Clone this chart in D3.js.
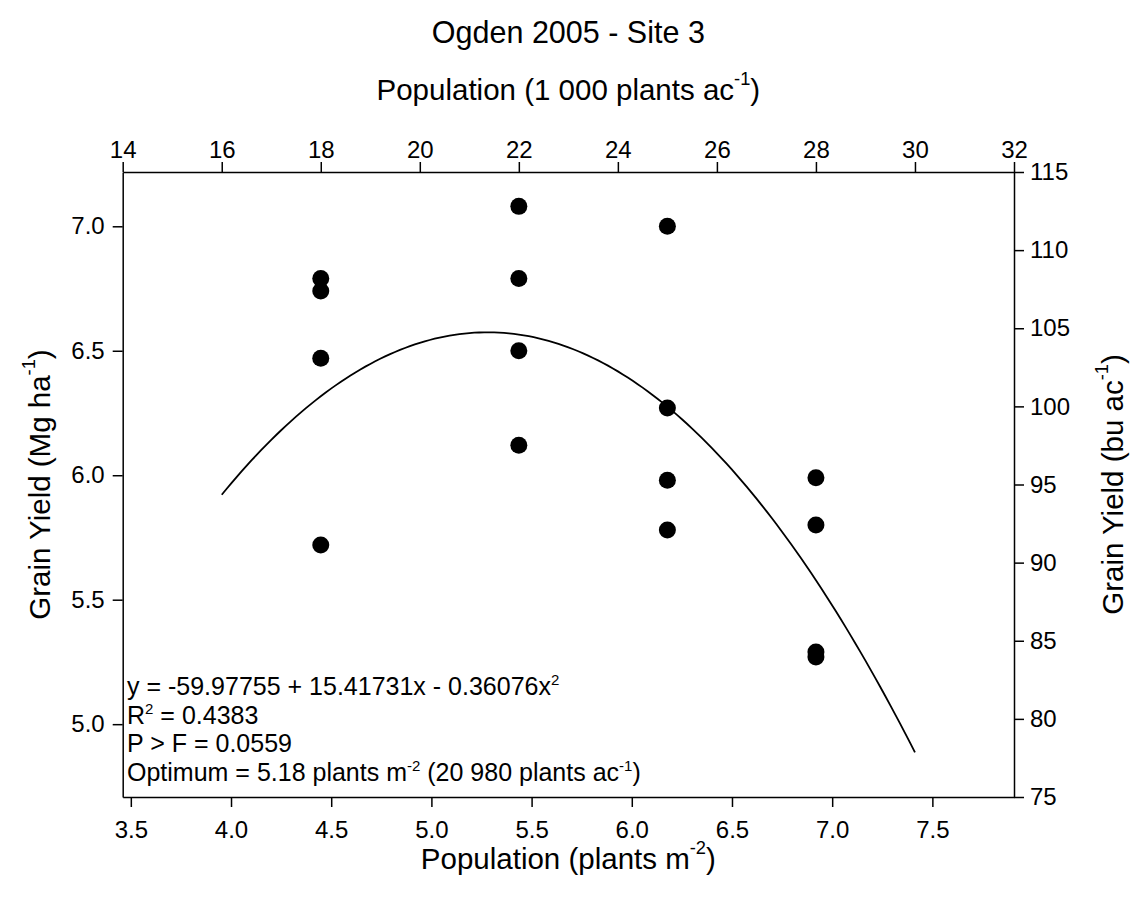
<!DOCTYPE html>
<html>
<head>
<meta charset="utf-8">
<script src="https://cdn.jsdelivr.net/npm/d3@7"></script>
<style>
  html, body { margin: 0; padding: 0; background: #fff; }
  svg text { font-family: "Liberation Sans", Arial, sans-serif; fill: #000; }
</style>
</head>
<body>
<svg id="chart" width="1136" height="906"></svg>
<script>
// ---- data ----
const populationAc = [18, 18, 18, 18, 22, 22, 22, 22, 25, 25, 25, 25, 28, 28, 28, 28]; // 1 000 plants/ac
const yieldMg = [6.79, 6.74, 6.47, 5.72, 7.08, 6.79, 6.50, 6.12, 7.00, 6.27, 5.98, 5.78, 5.99, 5.80, 5.29, 5.27]; // Mg/ha
const fitCoefficients = [-59.97755, 15.41731, -0.36076]; // bu/ac vs 1 000 plants/ac
const fitRange = [16, 30];
const bottomTicks = [3.5, 4.0, 4.5, 5.0, 5.5, 6.0, 6.5, 7.0, 7.5];
const topTicks = [14, 16, 18, 20, 22, 24, 26, 28, 30, 32];
const leftTicks = [5.0, 5.5, 6.0, 6.5, 7.0];
const rightTicks = [75, 80, 85, 90, 95, 100, 105, 110, 115];
const annotations = [
  [["y = -59.97755 + 15.41731x - 0.36076x", false], ["2", true]],
  [["R", false], ["2", true], [" = 0.4383", false]],
  [["P > F = 0.0559", false]],
  [["Optimum = 5.18 plants m", false], ["-2", true], [" (20 980 plants ac", false], ["-1", true], [")", false]]
];

// unit conversions
const PLANTS_PER_AC_PER_M2 = 4.04686;   // 1 plant/m2 = 4046.86 plants/ac
const MG_HA_PER_BU_AC = 0.0627659;      // corn, 56 lb bushel

const svg = d3.select("#chart");
const L = 122.7, R = 1014, T = 172, B = 797;

const xTop = d3.scaleLinear().domain([14, 32]).range([L, R]);
const xBot = d3.scaleLinear().domain([14 / PLANTS_PER_AC_PER_M2, 32 / PLANTS_PER_AC_PER_M2]).range([L, R]);
const yRight = d3.scaleLinear().domain([75, 115]).range([B, T]);
const yLeft = d3.scaleLinear().domain([75 * MG_HA_PER_BU_AC, 115 * MG_HA_PER_BU_AC]).range([B, T]);

function styleAxis(g, fontSize) {
  g.selectAll(".domain").attr("stroke", "#000").attr("stroke-width", 1.5);
  g.selectAll(".tick line").attr("stroke", "#000").attr("stroke-width", 1.5);
  g.selectAll(".tick text").attr("font-size", fontSize).attr("font-family", "Liberation Sans, Arial, sans-serif").attr("fill", "#000");
}

const tickFont = 24;
svg.append("g").attr("transform", `translate(0,${B})`)
  .call(d3.axisBottom(xBot).tickValues(bottomTicks).tickFormat(d3.format(".1f")).tickSize(10).tickSizeOuter(0).tickPadding(14))
  .call(g => styleAxis(g, tickFont));
svg.append("g").attr("transform", `translate(0,${T})`)
  .call(d3.axisTop(xTop).tickValues(topTicks).tickFormat(d3.format("d")).tickSize(10).tickSizeOuter(0).tickPadding(4))
  .call(g => styleAxis(g, tickFont));
svg.append("g").attr("transform", `translate(${L},0)`)
  .call(d3.axisLeft(yLeft).tickValues(leftTicks).tickFormat(d3.format(".1f")).tickSize(10).tickSizeOuter(0).tickPadding(8))
  .call(g => styleAxis(g, tickFont));
svg.append("g").attr("transform", `translate(${R},0)`)
  .call(d3.axisRight(yRight).tickValues(rightTicks).tickFormat(d3.format("d")).tickSize(10).tickSizeOuter(0).tickPadding(6))
  .call(g => styleAxis(g, tickFont));

// fitted curve
const fitX = d3.range(fitRange[0], fitRange[1] + 0.0001, 0.1);
const fitFn = x => fitCoefficients[0] + fitCoefficients[1] * x + fitCoefficients[2] * x * x;
svg.append("path")
  .datum(fitX)
  .attr("fill", "none").attr("stroke", "#000").attr("stroke-width", 1.8)
  .attr("d", d3.line().x(d => xTop(d)).y(d => yRight(fitFn(d))));

// points
svg.append("g").selectAll("circle")
  .data(yieldMg.map((v, i) => ({ x: populationAc[i] / PLANTS_PER_AC_PER_M2, y: v })))
  .join("circle")
  .attr("cx", d => xBot(d.x)).attr("cy", d => yLeft(d.y)).attr("r", 8.5).attr("fill", "#000");

// annotation text
const annFont = 25;
annotations.forEach((parts, i) => {
  const t = svg.append("text").attr("x", 127).attr("y", 695 + i * 28.5).attr("font-size", annFont);
  parts.forEach(([s, sup]) => {
    if (sup) t.append("tspan").attr("font-size", annFont * 0.6).attr("baseline-shift", "65%").text(s);
    else t.append("tspan").text(s);
  });
});

// titles
function labelWithSup(sel, pieces, size) {
  pieces.forEach(([s, sup]) => {
    if (sup) sel.append("tspan").attr("font-size", size * 0.62).attr("baseline-shift", "85%").text(s);
    else sel.append("tspan").text(s);
  });
}
const titleFont = 29.5;
svg.append("text").attr("x", (L + R) / 2).attr("y", 43).attr("text-anchor", "middle").attr("font-size", 30.5)
  .text("Ogden 2005 - Site 3");
labelWithSup(svg.append("text").attr("x", (L + R) / 2).attr("y", 100).attr("text-anchor", "middle").attr("font-size", titleFont),
  [["Population (1 000 plants ac", false], ["-1", true], [")", false]], titleFont);
labelWithSup(svg.append("text").attr("x", (L + R) / 2).attr("y", 869).attr("text-anchor", "middle").attr("font-size", titleFont),
  [["Population (plants m", false], ["-2", true], [")", false]], titleFont);
labelWithSup(svg.append("text").attr("transform", `translate(50,${(T + B) / 2}) rotate(-90)`).attr("text-anchor", "middle").attr("font-size", titleFont),
  [["Grain Yield (Mg ha", false], ["-1", true], [")", false]], titleFont);
labelWithSup(svg.append("text").attr("transform", `translate(1123,${(T + B) / 2}) rotate(-90)`).attr("text-anchor", "middle").attr("font-size", titleFont),
  [["Grain Yield (bu ac", false], ["-1", true], [")", false]], titleFont);
</script>
</body>
</html>
